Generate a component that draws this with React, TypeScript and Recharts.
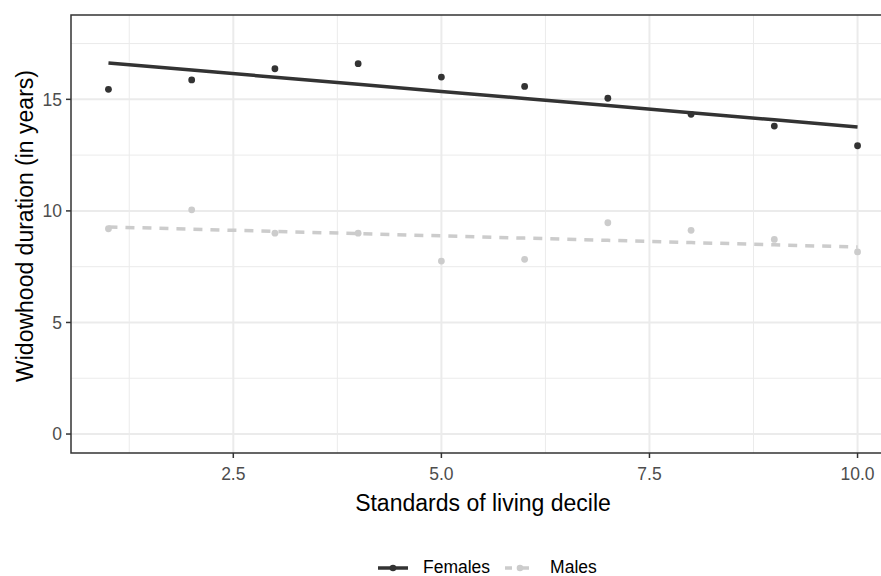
import {
    ComposedChart,
    Line,
    Scatter,
    XAxis,
    YAxis,
    CartesianGrid,
    ReferenceArea,
    Legend,
} from "recharts"

const deciles = [1, 2, 3, 4, 5, 6, 7, 8, 9, 10]
const females = [15.45, 15.87, 16.37, 16.6, 16.0, 15.58, 15.05, 14.33, 13.8, 12.92]
const males = [9.2, 10.05, 9.0, 9.0, 7.75, 7.83, 9.47, 9.13, 8.72, 8.16]

const xTicks = [2.5, 5, 7.5, 10]
const xMinor = [1.25, 3.75, 6.25, 8.75]
const yTicks = [0, 5, 10, 15]
const yMinor = [2.5, 7.5, 12.5, 17.5]

const X_DOMAIN: [number, number] = [0.55, 10.45]
const Y_DOMAIN: [number, number] = [-0.85, 18.78]

const FEMALE_COLOR = "#333333"
const MALE_COLOR = "#cccccc"
const FONT = "'Liberation Sans', Arial, sans-serif"

// ordinary least squares, like geom_smooth(method = "lm")
function linearFit(xs: number[], ys: number[]) {
    const n = xs.length
    const mx = xs.reduce((a, b) => a + b, 0) / n
    const my = ys.reduce((a, b) => a + b, 0) / n
    let sxy = 0
    let sxx = 0
    xs.forEach((x, i) => {
        sxy += (x - mx) * (ys[i] - my)
        sxx += (x - mx) * (x - mx)
    })
    const slope = sxy / sxx
    return (x: number) => my + slope * (x - mx)
}

const femaleFit = linearFit(deciles, females)
const maleFit = linearFit(deciles, males)

const data = deciles.map((d, i) => ({
    decile: d,
    females: females[i],
    males: males[i],
    femalesFit: femaleFit(d),
    malesFit: maleFit(d),
}))

function LegendKey({ color, dashed }: { color: string; dashed?: boolean }) {
    return (
        <svg width={30} height={12} style={{ marginRight: 15, display: "block" }}>
            <line
                x1={0}
                y1={6}
                x2={30}
                y2={6}
                stroke={color}
                strokeWidth={3.5}
                strokeDasharray={dashed ? "9 8" : undefined}
                strokeDashoffset={dashed ? 2 : undefined}
            />
            <circle cx={15} cy={6} r={3.3} fill={color} />
        </svg>
    )
}

function ChartLegend() {
    return (
        <div
            style={{
                height: 22,
                boxSizing: "border-box",
                paddingTop: 5,
                display: "flex",
                alignItems: "center",
                paddingLeft: 378,
                fontFamily: FONT,
                fontSize: 17.5,
                color: "#000",
                lineHeight: "17px",
            }}
        >
            <LegendKey color={FEMALE_COLOR} />
            <span style={{ marginRight: 15 }}>Females</span>
            <LegendKey color={MALE_COLOR} dashed />
            <span>Males</span>
        </div>
    )
}

export default function App() {
    return (
        <div style={{ position: "absolute", left: 0, top: 0, width: 881, height: 576, overflow: "hidden", background: "#fff" }}>
            <ComposedChart
                width={905}
                height={576}
                data={data}
                margin={{ top: 15, right: 10, left: 0, bottom: 0 }}
            >
                <CartesianGrid
                    stroke="#ebebeb"
                    strokeWidth={1}
                    verticalValues={xMinor}
                    horizontalValues={yMinor}
                />
                <CartesianGrid
                    stroke="#ebebeb"
                    strokeWidth={2}
                    verticalValues={xTicks}
                    horizontalValues={yTicks}
                />
                <XAxis
                    dataKey="decile"
                    type="number"
                    domain={X_DOMAIN}
                    ticks={xTicks}
                    allowDataOverflow
                    height={101}
                    axisLine={false}
                    tickSize={5}
                    tickMargin={10}
                    tickLine={{ stroke: "#333333", strokeWidth: 1.5 }}
                    tick={{ fontSize: 17.5, fill: "#4d4d4d", fontFamily: FONT }}
                    tickFormatter={(v: number) => v.toFixed(1)}
                    label={{
                        content: ({ viewBox }: any) => (
                            <text
                                x={viewBox.x + viewBox.width / 2}
                                y={viewBox.y + 58}
                                textAnchor="middle"
                                fontSize={23}
                                fontFamily={FONT}
                                fill="#000"
                            >
                                Standards of living decile
                            </text>
                        ),
                    }}
                />
                <YAxis
                    type="number"
                    domain={Y_DOMAIN}
                    ticks={yTicks}
                    allowDataOverflow
                    width={71}
                    axisLine={false}
                    tickSize={5}
                    tickMargin={4}
                    tickLine={{ stroke: "#333333", strokeWidth: 1.5 }}
                    tick={{ fontSize: 17.5, fill: "#4d4d4d", fontFamily: FONT }}
                    label={{
                        content: ({ viewBox }: any) => {
                            const cx = viewBox.x + 33
                            const cy = viewBox.y + viewBox.height / 2 - 8
                            return (
                                <text
                                    x={cx}
                                    y={cy}
                                    transform={`rotate(-90, ${cx}, ${cy})`}
                                    textAnchor="middle"
                                    fontSize={23}
                                    fontFamily={FONT}
                                    fill="#000"
                                >
                                    Widowhood duration (in years)
                                </text>
                            )
                        },
                    }}
                />
                <ReferenceArea
                    x1={X_DOMAIN[0]}
                    x2={X_DOMAIN[1]}
                    y1={Y_DOMAIN[0]}
                    y2={Y_DOMAIN[1]}
                    fill="none"
                    fillOpacity={0}
                    stroke="#333333"
                    strokeWidth={1.5}
                    ifOverflow="visible"
                />
                <Line
                    dataKey="malesFit"
                    stroke={MALE_COLOR}
                    strokeWidth={3.5}
                    strokeDasharray="9 8"
                    dot={false}
                    activeDot={false}
                    isAnimationActive={false}
                    legendType="none"
                />
                <Scatter
                    dataKey="males"
                    fill={MALE_COLOR}
                    isAnimationActive={false}
                    legendType="none"
                    shape={(p: any) => <circle cx={p.cx} cy={p.cy} r={3.4} fill={MALE_COLOR} />}
                />
                <Line
                    dataKey="femalesFit"
                    stroke={FEMALE_COLOR}
                    strokeWidth={3.5}
                    dot={false}
                    activeDot={false}
                    isAnimationActive={false}
                    legendType="none"
                />
                <Scatter
                    dataKey="females"
                    fill={FEMALE_COLOR}
                    isAnimationActive={false}
                    legendType="none"
                    shape={(p: any) => <circle cx={p.cx} cy={p.cy} r={3.4} fill={FEMALE_COLOR} />}
                />
                <Legend
                    verticalAlign="bottom"
                    align="left"
                    height={22}
                    wrapperStyle={{ left: 0, width: 881, bottom: 0 }}
                    content={() => <ChartLegend />}
                />
            </ComposedChart>
        </div>
    )
}
